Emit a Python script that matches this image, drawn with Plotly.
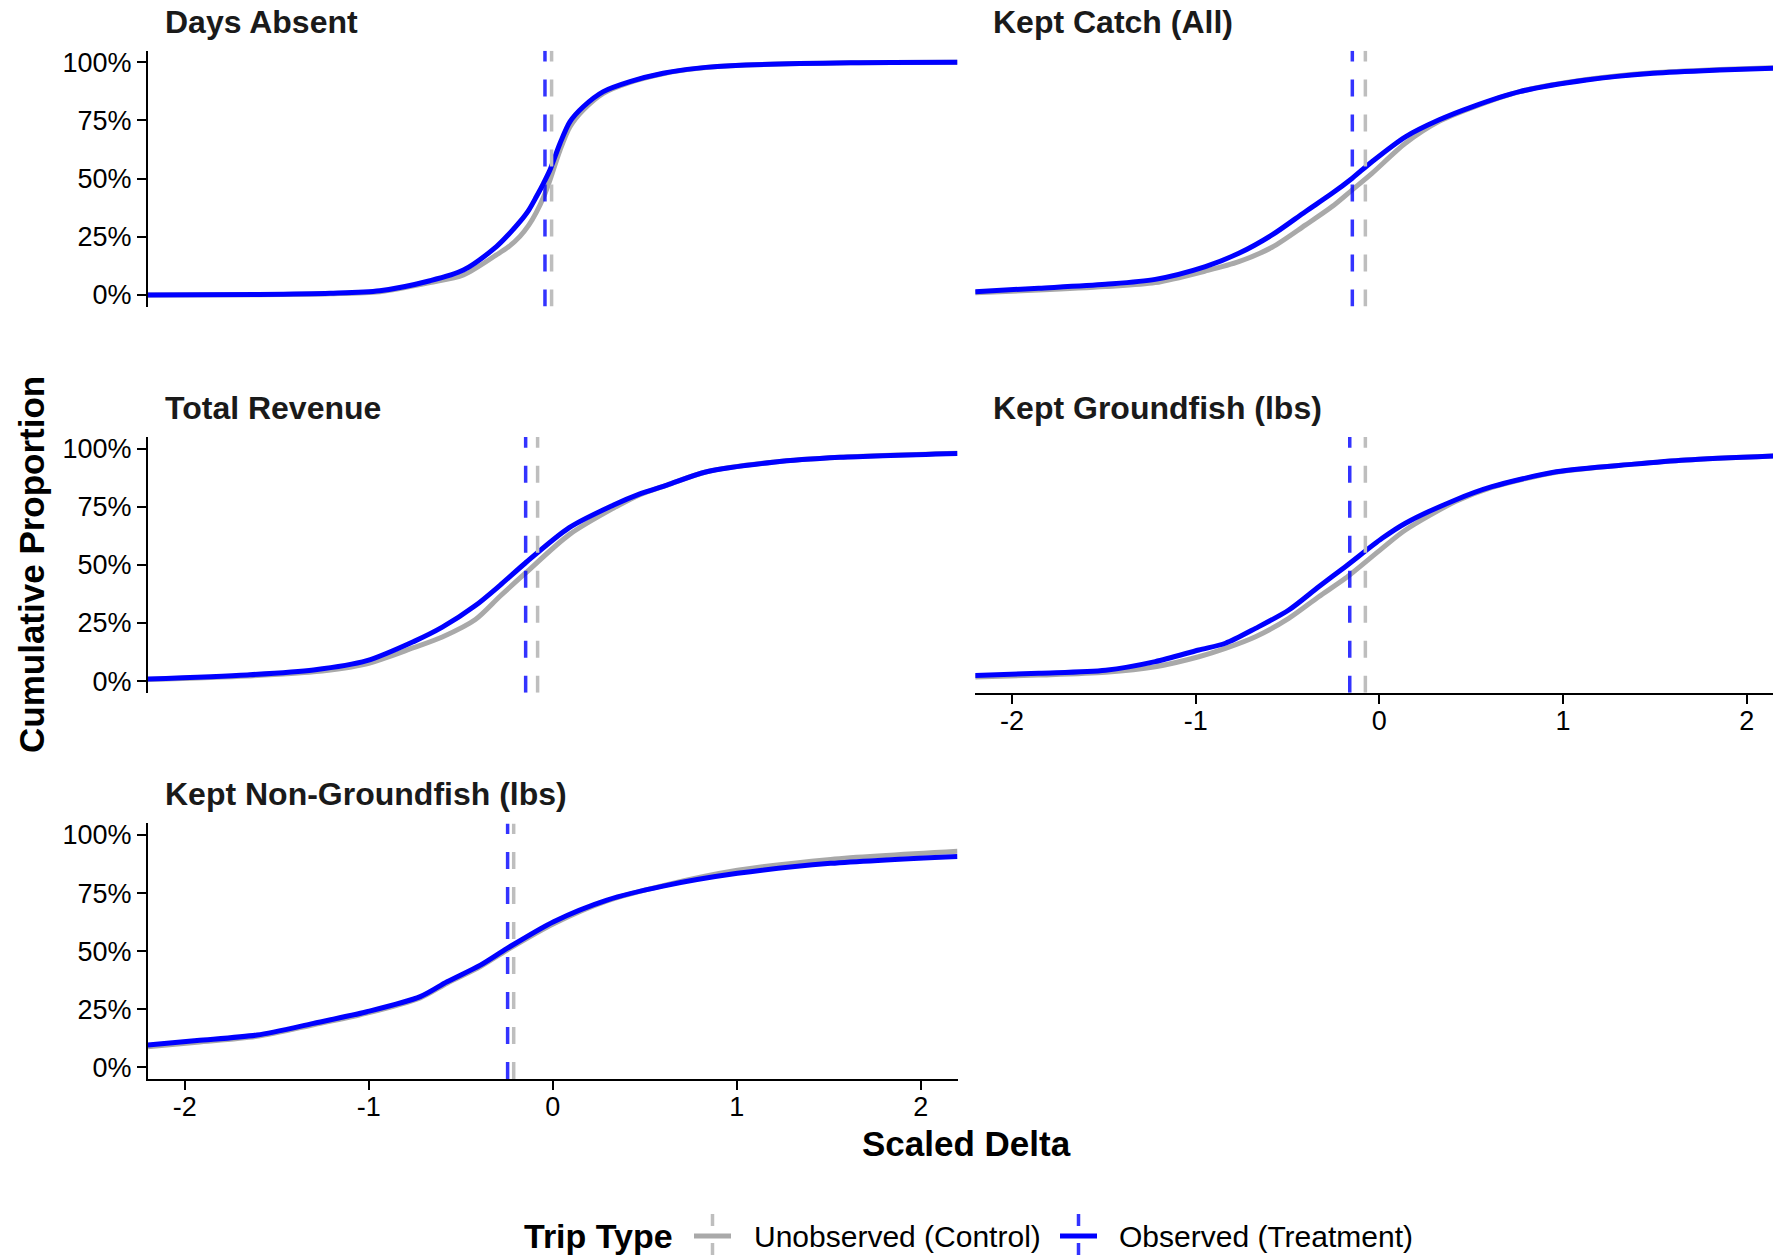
import plotly.graph_objects as go

W, H = 1773, 1256
FONT = "Liberation Sans, Arial, sans-serif"

# ---------------- data ----------------
panel_titles = ["Days Absent", "Kept Catch (All)", "Total Revenue",
                "Kept Groundfish (lbs)", "Kept Non-Groundfish (lbs)"]
series_names = ["Unobserved (Control)", "Observed (Treatment)"]
legend_title = "Trip Type"

# Days Absent
days_x = [-2.2, -1.6, -1.21, -0.94, -0.667, -0.485, -0.306, -0.24, -0.178, -0.13,
          -0.089, -0.05, -0.015, 0.040, 0.094, 0.166, 0.275, 0.42, 0.60, 0.78,
          1.05, 1.62, 2.2]
days_ctrl = [0.0, 0.001, 0.005, 0.014, 0.053, 0.086, 0.172, 0.207, 0.252, 0.30,
             0.355, 0.42, 0.494, 0.623, 0.723, 0.795, 0.867, 0.914, 0.951, 0.973,
             0.988, 0.998, 1.0]
days_trt = [0.0, 0.002, 0.007, 0.018, 0.061, 0.107, 0.208, 0.26, 0.315, 0.365,
            0.422, 0.48, 0.537, 0.652, 0.745, 0.809, 0.874, 0.917, 0.953, 0.974,
            0.988, 0.998, 1.0]

# Kept Catch (All)
catch_x = [-2.2, -1.854, -1.49, -1.22, -0.947, -0.765, -0.584, -0.403, -0.257, -0.149,
           -0.04, 0.142, 0.323, 0.505, 0.764, 1.127, 1.49, 1.853, 2.2]
catch_ctrl = [0.010, 0.021, 0.036, 0.053, 0.103, 0.143, 0.205, 0.300, 0.380, 0.451,
              0.523, 0.652, 0.745, 0.805, 0.874, 0.926, 0.955, 0.969, 0.978]
catch_trt = [0.014, 0.029, 0.046, 0.067, 0.122, 0.179, 0.258, 0.358, 0.437, 0.501,
             0.573, 0.680, 0.752, 0.809, 0.874, 0.924, 0.953, 0.967, 0.976]

# Total Revenue
rev_x = [-2.2, -1.66, -1.30, -1.01, -0.756, -0.6, -0.42, -0.285, -0.15, 0.09,
         0.331, 0.474, 0.621, 0.837, 1.199, 1.561, 2.2]
rev_ctrl = [0.007, 0.022, 0.040, 0.075, 0.144, 0.19, 0.265, 0.366, 0.463, 0.63,
            0.744, 0.802, 0.843, 0.900, 0.942, 0.963, 0.980]
rev_trt = [0.009, 0.027, 0.048, 0.088, 0.170, 0.232, 0.325, 0.413, 0.507, 0.66,
           0.757, 0.805, 0.843, 0.900, 0.941, 0.962, 0.979]

# Kept Groundfish (lbs)
gf_x = [-2.2, -1.854, -1.49, -1.22, -0.983, -0.838, -0.674, -0.493, -0.33, -0.185,
        0.015, 0.142, 0.414, 0.613, 0.963, 1.386, 1.669, 2.2]
gf_ctrl = [0.018, 0.026, 0.038, 0.062, 0.105, 0.141, 0.191, 0.27, 0.363, 0.442,
           0.571, 0.65, 0.772, 0.833, 0.898, 0.933, 0.951, 0.970]
gf_trt = [0.024, 0.034, 0.047, 0.084, 0.134, 0.163, 0.227, 0.306, 0.406, 0.492,
          0.614, 0.679, 0.779, 0.836, 0.900, 0.933, 0.951, 0.970]

# Kept Non-Groundfish (lbs)
ngf_x = [-2.2, -1.933, -1.607, -1.30, -1.01, -0.72, -0.574, -0.393, -0.248, 0.005,
         0.295, 0.60, 1.004, 1.51, 2.2]
ngf_ctrl = [0.088, 0.108, 0.133, 0.183, 0.233, 0.299, 0.362, 0.434, 0.505, 0.618,
            0.716, 0.782, 0.848, 0.895, 0.930]
ngf_trt = [0.096, 0.115, 0.139, 0.189, 0.239, 0.304, 0.368, 0.440, 0.512, 0.627,
           0.720, 0.780, 0.835, 0.878, 0.908]

# group means (dashed vertical lines)
mean_ctrl = [-0.006, -0.076, -0.082, -0.076, -0.212]
mean_trt = [-0.042, -0.147, -0.147, -0.161, -0.245]

y_tick_vals = [0, 0.25, 0.5, 0.75, 1.0]
y_tick_text = ["0%", "25%", "50%", "75%", "100%"]
x_tick_vals = [-2, -1, 0, 1, 2]
x_tick_text = ["-2", "-1", "0", "1", "2"]

# ---------------- styling ----------------
CTRL_COL = "#A9A9A9"
TRT_COL = "#0000FF"
CTRL_VCOL = "#BEBEBE"
TRT_VCOL = "rgba(0,0,255,0.8)"
series_col = [CTRL_COL, TRT_COL]
series_vcol = [CTRL_VCOL, TRT_VCOL]

# panel geometry (paper fractions)
col_dom = [[147.9 / W, 957.5 / W], [975.2 / W, 1.0]]
row_dom = [[1 - 306.6 / H, 1 - 50.7 / H],
           [1 - 692.8 / H, 1 - 436.9 / H],
           [1 - 1078.9 / H, 1 - 823.4 / H]]
pos = [(0, 0), (0, 1), (1, 0), (1, 1), (2, 0)]
xs = [days_x, catch_x, rev_x, gf_x, ngf_x]
ctrl = [days_ctrl, catch_ctrl, rev_ctrl, gf_ctrl, ngf_ctrl]
trt = [days_trt, catch_trt, rev_trt, gf_trt, ngf_trt]
show_y = [True, False, True, False, True]
show_x = [False, False, False, True, True]

X_RANGE = [-2.2, 2.2]
Y_RANGE = [-0.05, 1.05]

fig = go.Figure()
layout = dict(
    width=W, height=H, autosize=False,
    margin=dict(l=0, r=0, t=0, b=0, autoexpand=False),
    paper_bgcolor="white", plot_bgcolor="white",
    font=dict(family=FONT, color="black"),
    showlegend=False,
)

for i in range(5):
    r, c = pos[i]
    ax = "" if i == 0 else str(i + 1)
    xref = "x" + ax
    yref = "y" + ax
    fig.add_trace(go.Scatter(
        x=xs[i], y=ctrl[i], mode="lines", name=series_names[0],
        line=dict(color=CTRL_COL, width=5, shape="spline", smoothing=0.8),
        xaxis=xref, yaxis=yref, hoverinfo="skip"))
    fig.add_trace(go.Scatter(
        x=xs[i], y=trt[i], mode="lines", name=series_names[1],
        line=dict(color=TRT_COL, width=5, shape="spline", smoothing=0.8),
        xaxis=xref, yaxis=yref, hoverinfo="skip"))
    fig.add_trace(go.Scatter(
        x=[mean_ctrl[i], mean_ctrl[i]], y=Y_RANGE, mode="lines",
        name=series_names[0] + " mean",
        line=dict(color=CTRL_VCOL, width=3.5, dash="17px,18px"),
        xaxis=xref, yaxis=yref, hoverinfo="skip"))
    fig.add_trace(go.Scatter(
        x=[mean_trt[i], mean_trt[i]], y=Y_RANGE, mode="lines",
        name=series_names[1] + " mean",
        line=dict(color=TRT_VCOL, width=3.5, dash="17px,18px"),
        xaxis=xref, yaxis=yref, hoverinfo="skip"))

    xr = X_RANGE if c == 0 else [X_RANGE[0], 2.143]
    xaxis = dict(domain=col_dom[c], range=xr, anchor=yref,
                 showgrid=False, zeroline=False, automargin=False, fixedrange=True)
    if show_x[i]:
        xaxis.update(showline=True, linecolor="black", linewidth=2,
                     ticks="outside", ticklen=9, tickwidth=2, tickcolor="black",
                     tickvals=x_tick_vals, ticktext=x_tick_text,
                     ticklabelstandoff=-6,
                     tickfont=dict(size=27, color="black", family=FONT))
    else:
        xaxis.update(showline=False, showticklabels=False, ticks="")
    yaxis = dict(domain=row_dom[r], range=Y_RANGE, anchor=xref,
                 showgrid=False, zeroline=False, automargin=False, fixedrange=True)
    if show_y[i]:
        yaxis.update(showline=True, linecolor="black", linewidth=2,
                     ticks="outside", ticklen=9, tickwidth=2, tickcolor="black",
                     tickvals=y_tick_vals, ticktext=y_tick_text,
                     tickfont=dict(size=27, color="black", family=FONT))
    else:
        yaxis.update(showline=False, showticklabels=False, ticks="")
    layout["xaxis" + ax] = xaxis
    layout["yaxis" + ax] = yaxis

# strip titles
title_x = [162.8 / W, 991 / W]
title_y = [1 - 22 / H, 1 - 408 / H, 1 - 794 / H]
annotations = []
for i in range(5):
    r, c = pos[i]
    annotations.append(dict(
        text="<b>%s</b>" % panel_titles[i], x=title_x[c], y=title_y[r],
        xref="paper", yref="paper", xanchor="left", yanchor="middle",
        showarrow=False, font=dict(size=32, color="#1A1A1A", family=FONT)))
# axis titles
annotations.append(dict(
    text="<b>Cumulative Proportion</b>", x=32 / W, y=1 - 565 / H,
    xref="paper", yref="paper", xanchor="center", yanchor="middle",
    textangle=-90, showarrow=False, font=dict(size=35, color="black", family=FONT)))
annotations.append(dict(
    text="<b>Scaled Delta</b>", x=966.7 / W, y=1 - 1143 / H,
    xref="paper", yref="paper", xanchor="center", yanchor="middle",
    showarrow=False, font=dict(size=35, color="black", family=FONT)))

# ---------------- legend (ggplot-style key: solid line crossed by dashed tick) ----
LEG_Y = 1 - 1236 / H
annotations.append(dict(
    text="<b>%s</b>" % legend_title, x=522 / W, y=LEG_Y,
    xref="paper", yref="paper", xanchor="left", yanchor="middle",
    showarrow=False, font=dict(size=34, color="black", family=FONT)))
key_cx = [712.5, 1078.5]      # key centres (px)
label_x = [752, 1116.5]       # label left edges (px)
shapes = []
for k in range(2):
    cx = key_cx[k]
    shapes.append(dict(
        type="line", xref="paper", yref="paper",
        x0=cx / W, x1=cx / W, y0=1 - 1255 / H, y1=1 - 1213 / H,
        line=dict(color=series_vcol[k], width=3.5, dash="12px,17px")))
    shapes.append(dict(
        type="line", xref="paper", yref="paper",
        x0=(cx - 18.5) / W, x1=(cx + 18.5) / W, y0=LEG_Y, y1=LEG_Y,
        line=dict(color=series_col[k], width=5)))
    annotations.append(dict(
        text=series_names[k], x=label_x[k] / W, y=LEG_Y,
        xref="paper", yref="paper", xanchor="left", yanchor="middle",
        showarrow=False, font=dict(size=30, color="black", family=FONT)))

layout["annotations"] = annotations
layout["shapes"] = shapes

fig.update_layout(**layout)
fig.write_html("out.html")
